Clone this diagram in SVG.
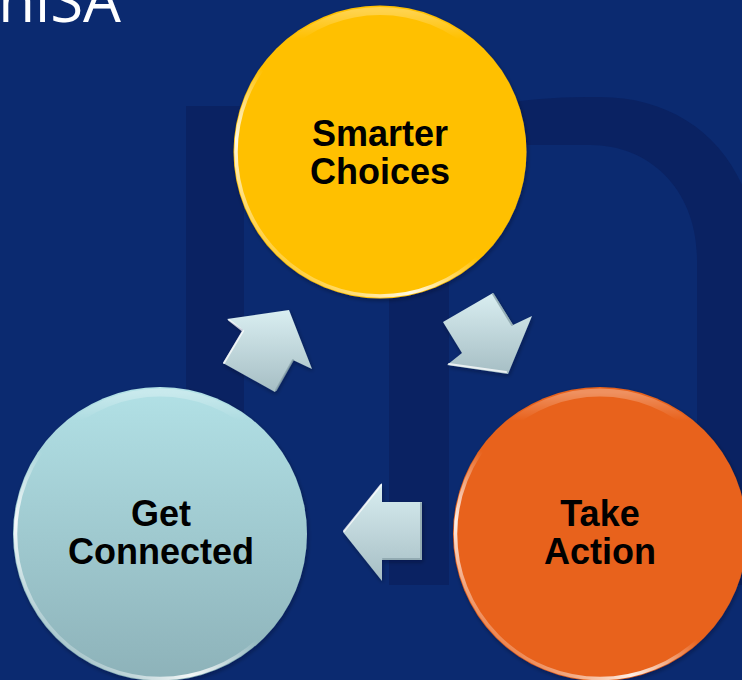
<svg xmlns="http://www.w3.org/2000/svg" width="742" height="680" viewBox="0 0 742 680">
  <defs>
    <linearGradient id="gBlue" x1="0" y1="0" x2="0" y2="1">
      <stop offset="0" stop-color="#b2e1e6"/>
      <stop offset="1" stop-color="#8db2b9"/>
    </linearGradient>
    <linearGradient id="gArrow" x1="0" y1="0" x2="0" y2="1">
      <stop offset="0" stop-color="#d9eef1"/>
      <stop offset="1" stop-color="#a6bec4"/>
    </linearGradient>
    <linearGradient id="gRim" x1="0.85" y1="0.1" x2="0.15" y2="0.9">
      <stop offset="0" stop-color="#ffffff" stop-opacity="0"/>
      <stop offset="0.55" stop-color="#ffffff" stop-opacity="0"/>
      <stop offset="0.78" stop-color="#ffffff" stop-opacity="0.9"/>
      <stop offset="1" stop-color="#ffffff" stop-opacity="0.15"/>
    </linearGradient>
    <linearGradient id="gTop" x1="0" y1="0" x2="0" y2="1">
      <stop offset="0" stop-color="#ffffff" stop-opacity="0.3"/>
      <stop offset="0.1" stop-color="#ffffff" stop-opacity="0"/>
      <stop offset="1" stop-color="#ffffff" stop-opacity="0"/>
    </linearGradient>
    <filter id="shadow" x="-20%" y="-20%" width="140%" height="140%">
      <feDropShadow dx="1" dy="2" stdDeviation="2" flood-color="#000820" flood-opacity="0.35"/>
    </filter>
  </defs>
  <style>
    .lbl { font-family: "Liberation Sans", Arial, sans-serif; font-weight: bold; font-size: 36px; fill: #000; text-anchor: middle; }
    .rim { fill: none; stroke: url(#gRim); stroke-width: 3.5; }
    .topgl { fill: none; stroke: url(#gTop); stroke-width: 8; }
    .arrow { fill: url(#gArrow); filter: url(#shadow); }
    .bevel-hi { fill: none; stroke: #ffffff; stroke-opacity: 0.75; stroke-width: 2; stroke-linecap: round; }
    .bevel-lo { fill: none; stroke: #8aa3aa; stroke-opacity: 0.8; stroke-width: 2; stroke-linecap: round; }
    .bg-shape { fill: #0a2262; }
  </style>

  <!-- background -->
  <rect x="0" y="0" width="742" height="680" fill="#0b2a70"/>
  <rect class="bg-shape" x="186" y="106" width="58" height="480"/>
  <path class="bg-shape" d="M389,585 L389,120 L449,120 C500,100 540,97 600,97 C690,97 757,160 757,260 L757,585 L697,585 L697,260 C697,190 650,145 590,145 L470,145 C455,145 449,155 449,170 L449,585 Z"/>
  <text x="121" y="22" font-family="'Open Sans', 'Liberation Sans', sans-serif" font-weight="400" font-size="60" fill="#ffffff" text-anchor="end">niSA</text>

  <!-- connectors -->
  <g id="connectors">
    <g id="arrow-gc-sc">
      <polygon class="arrow" points="289,310 312,369 293,360 275,392 223,363 243,330 227,319"/>
      <polyline class="bevel-hi" points="224,363 243,331 229,320"/>
      <polyline class="bevel-lo" points="293,360 276,390"/>
    </g>
    <g id="arrow-sc-ta">
      <polygon class="arrow" points="443,322 493,293 513,325 532,316 508,374 447,365 462,353"/>
      <polyline class="bevel-hi" points="449,364 506,372"/>
      <polyline class="bevel-lo" points="493,294 512,325"/>
    </g>
    <g id="arrow-ta-gc">
      <polygon class="arrow" points="343,532 382,483 382,502 422,502 422,560 382,560 382,581"/>
      <polyline class="bevel-hi" points="344,531 381,485"/>
      <polyline class="bevel-lo" points="383,559 421,559 421,503"/>
    </g>
  </g>

  <!-- nodes -->
  <g id="node-smarter-choices">
    <circle cx="380" cy="152" r="146.5" fill="#ffc000" filter="url(#shadow)"/>
    <circle class="topgl" cx="380" cy="152" r="141"/>
    <circle class="rim" cx="380" cy="152" r="144"/>
    <text class="lbl" x="380" y="146">Smarter</text>
    <text class="lbl" x="380" y="184">Choices</text>
  </g>

  <g id="node-get-connected">
    <circle cx="160" cy="534" r="147" fill="url(#gBlue)" filter="url(#shadow)"/>
    <circle class="topgl" cx="160" cy="534" r="141.5"/>
    <circle class="rim" cx="160" cy="534" r="144.5"/>
    <text class="lbl" x="161" y="526">Get</text>
    <text class="lbl" x="161" y="564">Connected</text>
  </g>

  <g id="node-take-action">
    <circle cx="600" cy="534" r="147" fill="#e8621a" filter="url(#shadow)"/>
    <circle class="topgl" cx="600" cy="534" r="141.5"/>
    <circle class="rim" cx="600" cy="534" r="144.5"/>
    <text class="lbl" x="600" y="526">Take</text>
    <text class="lbl" x="600" y="564">Action</text>
  </g>
</svg>
